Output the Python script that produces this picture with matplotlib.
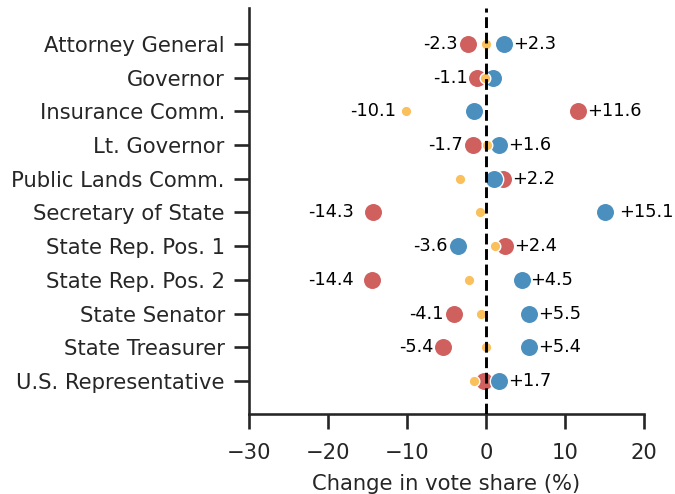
import matplotlib
matplotlib.use('Agg')
import matplotlib.pyplot as plt
import seaborn as sns

# Data
offices = ['Attorney General', 'Governor', 'Insurance Comm.', 'Lt. Governor',
           'Public Lands Comm.', 'Secretary of State', 'State Rep. Pos. 1',
           'State Rep. Pos. 2', 'State Senator', 'State Treasurer',
           'U.S. Representative']
rep_change = [-2.3, -1.1, 11.6, -1.7, 2.2, -14.3, 2.4, -14.4, -4.1, -5.4, -0.2]
dem_change = [2.3, 0.9, -1.5, 1.6, 1.0, 15.1, -3.6, 4.5, 5.5, 5.4, 1.7]
oth_change = [0.0, -0.1, -10.1, 0.1, -3.3, -0.8, 1.1, -2.2, -0.6, 0.0, -1.5]

# labelled values per office (left side / right side)
left_labels = [-2.3, -1.1, -10.1, -1.7, None, -14.3, -3.6, -14.4, -4.1, -5.4, None]
right_labels = [2.3, None, 11.6, 1.6, 2.2, 15.1, 2.4, 4.5, 5.5, 5.4, 1.7]

sns.set_theme(style='ticks', context='talk')
plt.rcParams['font.family'] = ['DejaVu Sans']

fig = plt.figure(figsize=(6.75, 4.94), dpi=100)
ax = fig.add_axes([0.369, 0.162, 0.585, 0.822])

ypos = list(range(len(offices)))

ax.scatter(rep_change, ypos, s=175, color='#d0605e', edgecolor='white', linewidth=1, zorder=3)
ax.scatter(dem_change, ypos, s=175, color='#4a8fbe', edgecolor='white', linewidth=1, zorder=4)
ax.scatter(oth_change, ypos, s=58, color='#f9c05c', edgecolor='white', linewidth=1, zorder=5)

ax.axvline(0, color='black', linestyle='--', linewidth=2.1, zorder=6)

# labels sit a little further out for the big swings
for y, v in zip(ypos, left_labels):
    if v is not None:
        off = -13.5 if abs(v) > 14 else -7
        ax.annotate(f'{v:.1f}', (v, y), xytext=(off, 0), textcoords='offset points',
                    ha='right', va='center', fontsize=12.8, color='black')
for y, v in zip(ypos, right_labels):
    if v is not None:
        off = 10 if v > 14 else 6.5
        ax.annotate(f'+{v:.1f}', (v, y), xytext=(off, 0), textcoords='offset points',
                    ha='left', va='center', fontsize=12.8, color='black')

ax.set_yticks(ypos)
ax.set_yticklabels(offices)
ax.set_ylim(len(offices) - 1 + 0.98, -1.07)
ax.set_xlim(-30, 20)
ax.set_xticks([-30, -20, -10, 0, 10, 20])
ax.tick_params(axis='both', length=10.5, width=1.9, labelsize=15.2)
ax.tick_params(axis='y', pad=7)
ax.tick_params(axis='x', pad=10.5)
ax.set_xlabel('Change in vote share (%)', fontsize=15.2, labelpad=8)
sns.despine(ax=ax)

plt.savefig('out.png', dpi=100)
